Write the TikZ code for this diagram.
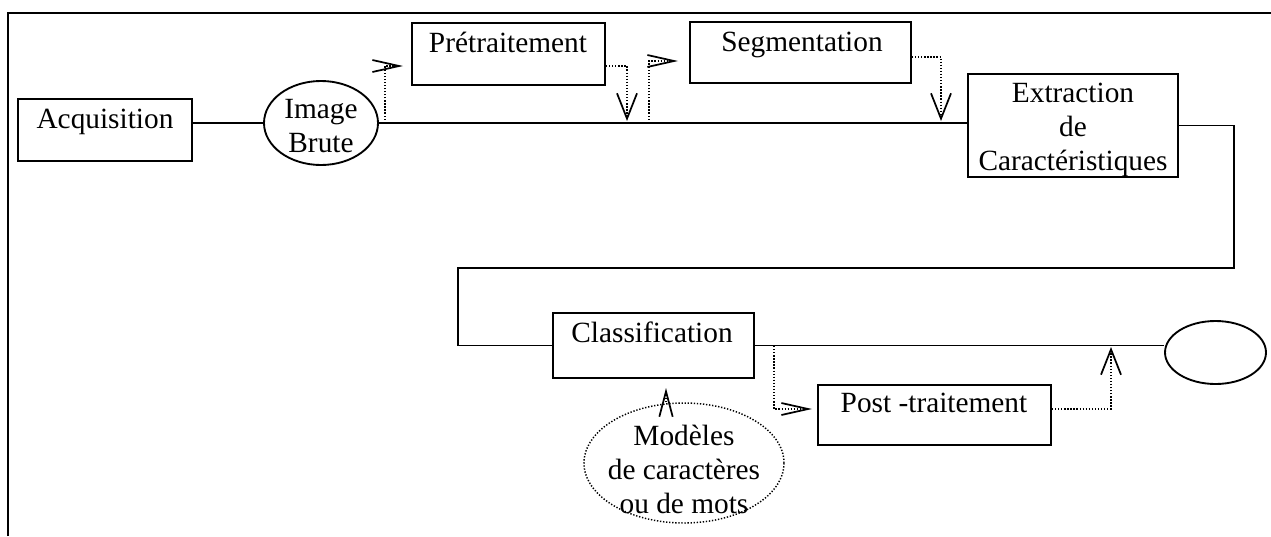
\documentclass[tikz,border=0pt]{standalone}
\usepackage{fontspec}
\setmainfont{Liberation Serif}
\usetikzlibrary{arrows.meta,fit,shapes.geometric}

\tikzset{
  lbl/.style={font=\fontsize{22pt}{25.5pt}\selectfont, inner sep=0pt},
  box/.style={draw, line width=1.4pt, inner sep=0pt},
  oval/.style={draw, ellipse, line width=1.4pt, inner sep=0pt},
  wire/.style={line width=1.4pt},
  dots/.style={line width=1.1pt, dash pattern=on 1pt off 1.3pt},
  tipside/.style={-{Straight Barb[length=20pt,width=9pt,line width=1.3pt]}},
  tipvert/.style={-{Straight Barb[length=19pt,width=15pt,line width=1.3pt]}},
  tipsmall/.style={-{Straight Barb[length=19pt,width=10pt,line width=1.3pt]}},
}

\begin{document}
\begin{tikzpicture}[x=0.75pt, y=-0.75pt]
\useasboundingbox (0,0) rectangle (1271,536);

% outer frame (only top and left edges are inside the page)
\draw[line width=1.6pt] (8,536) -- (8,13) -- (1271,13);

% processing stages
\node[box, fit={(18,99)(192,161)}] (acq) {};
\node[lbl, anchor=base] (acqT) at (105,128) {Acquisition};

\node[oval, minimum width=85.5pt, minimum height=63pt] (img) at (321,123) {};
\node[lbl, align=center] (imgT) at (321,126) {Image\\Brute};

\node[box, fit={(412,23)(605,85)}] (pre) {};
\node[lbl, anchor=base] (preT) at (508,52) {Prétraitement};

\node[box, fit={(690,22)(911,83)}] (seg) {};
\node[lbl, anchor=base] (segT) at (802,51) {Segmentation};

\node[box, fit={(968,74)(1178,177)}] (ext) {};
\node[lbl, align=center] (extT) at (1073,130) {Extraction\\de\\Caractéristiques};

\node[box, fit={(553,313)(754,378)}] (cls) {};
\node[lbl, anchor=base] (clsT) at (652,342) {Classification};

\node[box, fit={(818,385)(1051,445)}] (post) {};
\node[lbl, anchor=base] (postT) at (934,412) {Post -traitement};

\node[oval, minimum width=75.75pt, minimum height=47.25pt] (fin) at (1215.5,352.5) {};

\node[oval, dots, minimum width=150pt, minimum height=90pt] (mod) at (684,463) {};
\node[lbl, align=center] (modT) at (684,469) {Modèles\\de caractères\\ou de mots};

% main chain
\coordinate (r1) at (1234,268);
\coordinate (l1) at (458,268);
\draw[wire] (acq.east |- img.west) -- (img.west);
\draw[wire] (img.east) -- (img.east -| ext.west);
\draw[wire] (ext.east) -| (r1) -- (l1) |- (cls.west);
\draw[wire] (cls.east) -- (cls.east -| fin.west);

% dotted detours with open arrow tips
\coordinate (b1) at (385,123);
\coordinate (t1) at (403,66);
\draw[dots, tipside] (b1) |- (t1);

\coordinate (t2) at (627,121);
\draw[dots, tipvert] (pre.east |- t1) -| (t2);

\coordinate (b3) at (649,123);
\coordinate (t3) at (678,61);
\draw[dots, tipside] (b3) |- (t3);

\coordinate (h4) at (0,57);
\coordinate (t4) at (941,121);
\draw[dots, tipvert] (seg.east |- h4) -| (t4);

\coordinate (b5) at (774,346);
\coordinate (t5) at (812,409);
\draw[dots, tipside] (b5) |- (t5);

\coordinate (t6) at (1111,347);
\draw[dots, tipvert] (post.east |- t5) -| (t6);

\coordinate (t7) at (666,388);
\draw[dots, tipsmall] (mod.north -| t7) -- (t7);
\end{tikzpicture}
\end{document}
